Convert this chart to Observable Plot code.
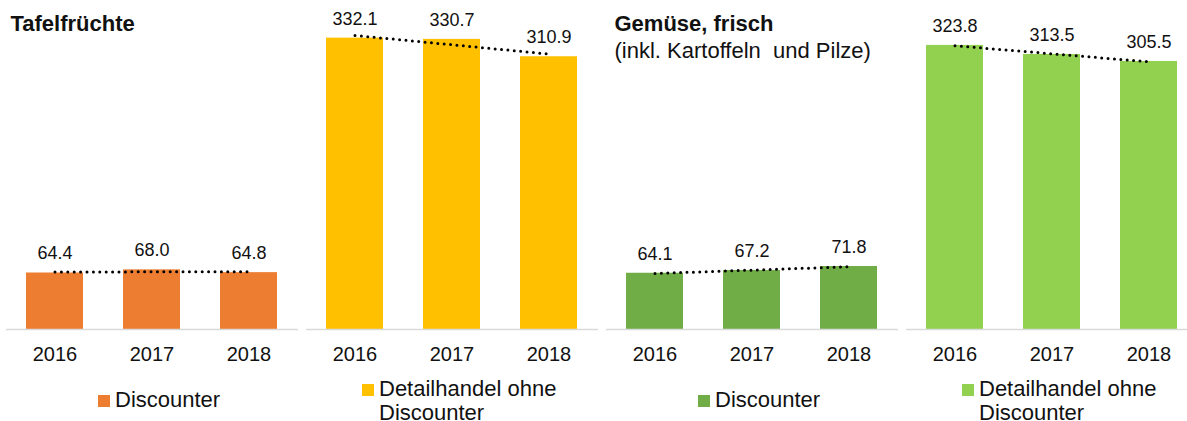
<!DOCTYPE html>
<html>
<head>
<meta charset="utf-8">
<script src="https://cdn.jsdelivr.net/npm/d3@7"></script>
<script src="https://cdn.jsdelivr.net/npm/@observablehq/plot@0.6"></script>
<style>
  html, body { margin: 0; padding: 0; background: #fff; overflow: hidden; }
  #wrap { position: relative; width: 1187px; height: 421px; overflow: hidden; font-family: "Liberation Sans", Arial, sans-serif; color: #111; }
  .lg-sq { position: absolute; width: 12px; height: 12px; }
  .lg-tx { position: absolute; font-size: 22px; line-height: 24.5px; white-space: nowrap; }
</style>
</head>
<body>
<div id="wrap"></div>
<script>
// ---- data ----
const years = ["2016", "2017", "2018"];
const panelKeys = ["fruitDisc", "fruitRetail", "vegDisc", "vegRetail"];
const fruitDiscounter = [64.4, 68.0, 64.8];
const fruitRetail = [332.1, 330.7, 310.9];
const vegDiscounter = [64.1, 67.2, 71.8];
const vegRetail = [323.8, 313.5, 305.5];
const panelColors = ["#ED7D31", "#FFC000", "#70AD47", "#92D050"];
const legendLabels = ["Discounter", "Detailhandel ohne<br>Discounter", "Discounter", "Detailhandel ohne<br>Discounter"];
const titleFruit = "Tafelfrüchte";
const titleVeg = "Gemüse, frisch";
const subtitleVeg = "(inkl. Kartoffeln  und Pilze)";

// ---- table ----
const series = [fruitDiscounter, fruitRetail, vegDiscounter, vegRetail];
const rows = [];
const trend = [];
series.forEach((vals, pi) => {
  vals.forEach((v, i) => rows.push({panel: panelKeys[pi], year: years[i], value: v}));
  // least-squares linear trend (as in the source chart's trendline)
  const n = vals.length;
  const xm = (n - 1) / 2;
  const ym = d3.mean(vals);
  let num = 0, den = 0;
  vals.forEach((v, i) => { num += (i - xm) * (v - ym); den += (i - xm) ** 2; });
  const slope = num / den;
  years.forEach((y, i) => trend.push({panel: panelKeys[pi], year: y, value: ym + slope * (i - xm)}));
});

const font = "Liberation Sans, Arial, sans-serif";

const chart = Plot.plot({
  width: 1198,
  height: 372,
  marginLeft: 5,
  marginRight: 0,
  marginTop: 0,
  marginBottom: 43,
  style: {fontFamily: font, background: "#fff", color: "#111", overflow: "visible", maxWidth: "none"},
  fx: {domain: panelKeys, paddingInner: 0.027, paddingOuter: 0, axis: null, label: null},
  x: {domain: years, paddingInner: 0.41, paddingOuter: 0.2, axis: null, label: null},
  y: {domain: [0, 375], axis: null},
  color: {domain: panelKeys, range: panelColors},
  marks: [
    Plot.barY(rows, {fx: "panel", x: "year", y: "value", fill: "panel"}),
    Plot.ruleY([0], {stroke: "#d9d9d9", strokeWidth: 1.5}),
    Plot.line(trend, {fx: "panel", x: "year", y: "value", stroke: "#000", strokeWidth: 3,
      strokeDasharray: "0 6.4", strokeLinecap: "round"}),
    Plot.text(rows, {fx: "panel", x: "year", y: "value", text: d => d.value.toFixed(1),
      dy: -13.5, lineAnchor: "bottom", fontSize: 18, fill: "#111"}),
    Plot.axisX({tickSize: 0, tickPadding: 17, fontSize: 20, label: null, fill: "#111"}),
    Plot.text([titleFruit], {fx: [panelKeys[0]], frameAnchor: "top-left", dx: 4, dy: 15,
      lineAnchor: "top", fontSize: 22, fontWeight: "bold", fill: "#111"}),
    Plot.text([titleVeg], {fx: [panelKeys[2]], frameAnchor: "top-left", dx: 8, dy: 15,
      lineAnchor: "top", fontSize: 22, fontWeight: "bold", fill: "#111"}),
    Plot.text([subtitleVeg], {fx: [panelKeys[2]], frameAnchor: "top-left", dx: 8, dy: 41.5,
      lineAnchor: "top", fontSize: 22, fill: "#111"})
  ]
});

const wrap = document.getElementById("wrap");
chart.style.position = "absolute";
chart.style.left = "0px";
chart.style.top = "0px";
chart.style.maxWidth = "none";
chart.setAttribute("width", 1198);
chart.setAttribute("height", 372);
wrap.appendChild(chart);

// ---- legends below the plot ----
const fx = chart.scale("fx");
panelKeys.forEach((k, i) => {
  const px = fx.apply(k);
  const twoLine = legendLabels[i].includes("<br>");
  const sqLeft = px + (twoLine ? 56 : 92);
  const sq = document.createElement("div");
  sq.className = "lg-sq";
  sq.style.background = panelColors[i];
  sq.style.left = sqLeft + "px";
  sq.style.top = (twoLine ? 384 : 395) + "px";
  wrap.appendChild(sq);
  const tx = document.createElement("div");
  tx.className = "lg-tx";
  tx.innerHTML = legendLabels[i];
  tx.style.left = (sqLeft + 17) + "px";
  tx.style.top = (twoLine ? 376.5 : 387.5) + "px";
  wrap.appendChild(tx);
});
</script>
</body>
</html>
